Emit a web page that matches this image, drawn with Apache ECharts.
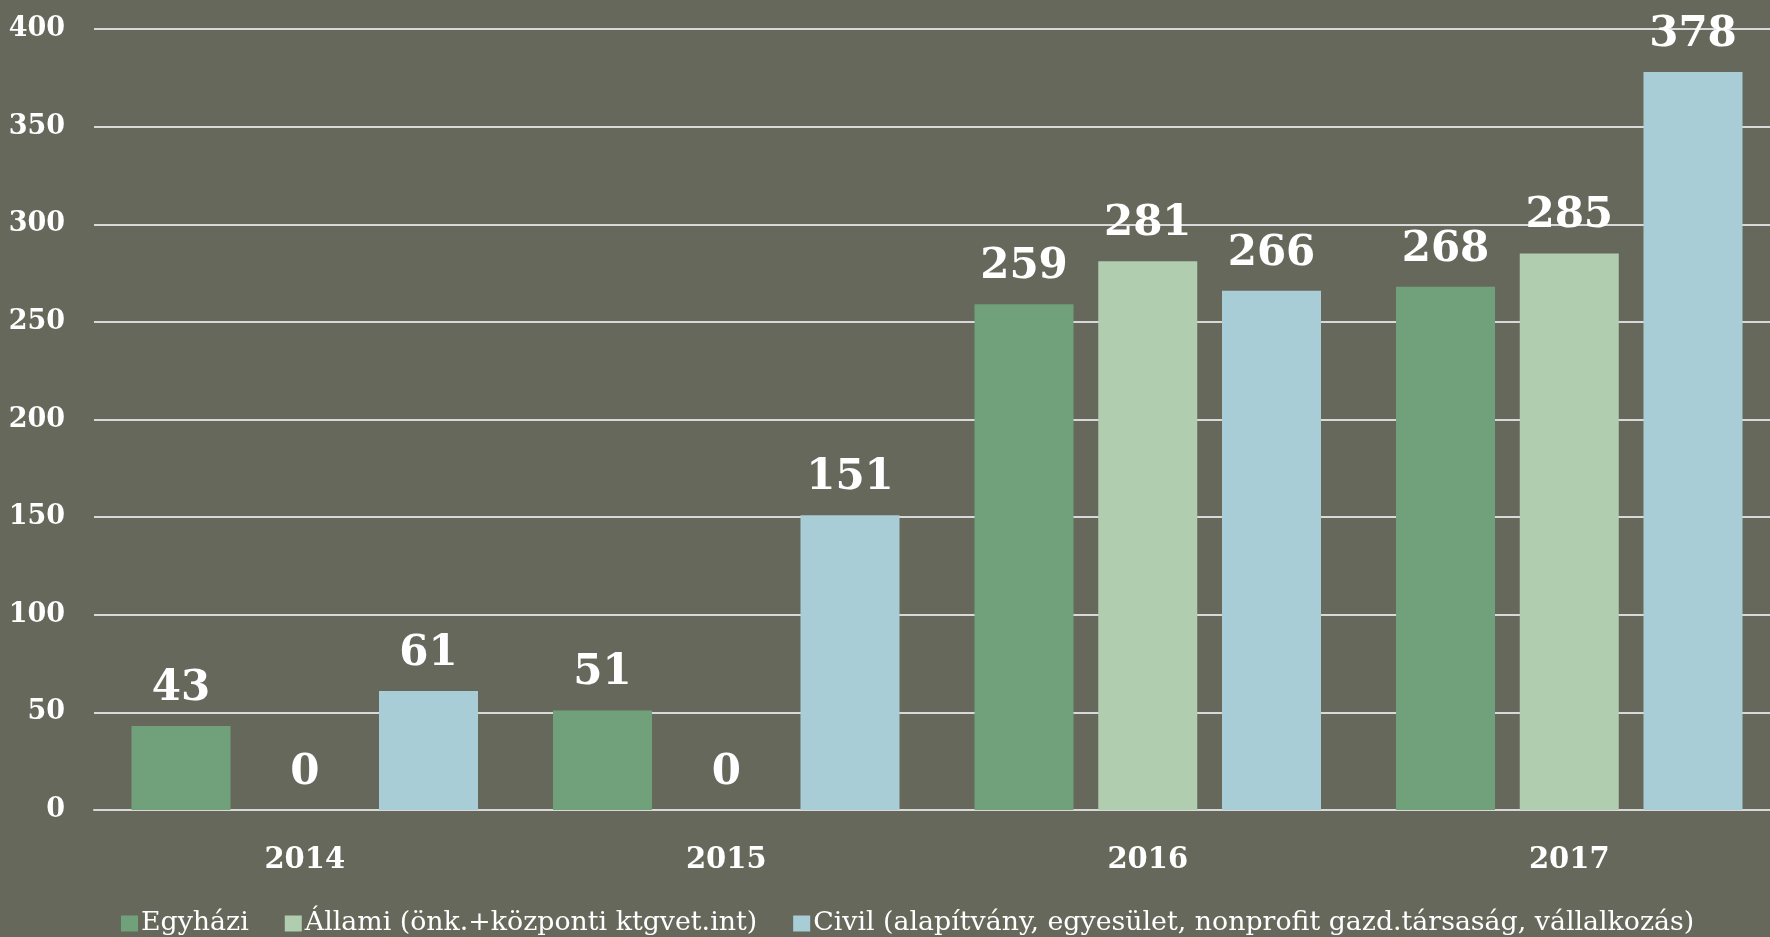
<!DOCTYPE html>
<html>
<head>
<meta charset="utf-8">
<script src="https://cdn.jsdelivr.net/npm/echarts@6/dist/echarts.min.js"></script>
<style>
  html, body { margin: 0; padding: 0; background: #66685b; overflow: hidden; }
  /* a rajzterület kicsit túlnyúlik a jobb szélen, ezért szélesebb a tároló */
  #chart { width: 1780px; height: 937px; }
</style>
</head>
<body>
<div id="chart"></div>
<script>
// adatok
var years = ['2014', '2015', '2016', '2017'];
var seriesNames = ['Egyházi', 'Állami (önk.+központi ktgvet.int)', 'Civil (alapítvány, egyesület, nonprofit gazd.társaság, vállalkozás)'];
var egyhazi = [43, 51, 259, 268];
var allami = [0, 0, 281, 285];
var civil = [61, 151, 266, 378];
var colors = ['#70a17a', '#b0cdb0', '#a9cdd7'];

var myChart = echarts.init(document.getElementById('chart'));

var labelFont = 'DejaVu Serif';

function makeSeries(name, data, color) {
  return {
    name: name,
    type: 'bar',
    data: data,
    barWidth: 99,
    barGap: '25%',
    itemStyle: { color: color },
    label: {
      show: true,
      position: 'top',
      distance: 16,
      color: '#ffffff',
      fontFamily: labelFont,
      fontWeight: 'bold',
      fontSize: 42
    }
  };
}

var option = {
  backgroundColor: '#66685b',
  animation: false,
  color: colors,
  grid: {
    left: 94,
    top: 29,
    width: 1686,
    height: 781
  },
  legend: {
    bottom: 0,
    left: 121,
    padding: 0,
    itemWidth: 17,
    itemHeight: 16,
    itemGap: 36,
    icon: 'rect',
    textStyle: {
      color: '#ffffff',
      fontFamily: 'DejaVu Serif',
      fontSize: 26.8,
      padding: [0, 0, 0, -2]
    },
    data: seriesNames
  },
  xAxis: {
    type: 'category',
    data: years,
    axisLine: { lineStyle: { color: '#d9d9d9', width: 2 } },
    axisTick: { show: false },
    axisLabel: {
      color: '#ffffff',
      fontFamily: labelFont,
      fontWeight: 'bold',
      fontSize: 29,
      margin: 36
    }
  },
  yAxis: {
    type: 'value',
    min: 0,
    max: 400,
    interval: 50,
    axisLine: { show: false },
    axisTick: { show: false },
    splitLine: { lineStyle: { color: '#d9d9d9', width: 2 } },
    axisLabel: {
      color: '#ffffff',
      fontFamily: labelFont,
      fontWeight: 'bold',
      fontSize: 27,
      margin: 29
    }
  },
  series: [
    makeSeries(seriesNames[0], egyhazi, colors[0]),
    makeSeries(seriesNames[1], allami, colors[1]),
    makeSeries(seriesNames[2], civil, colors[2])
  ]
};

myChart.setOption(option);
</script>
</body>
</html>
